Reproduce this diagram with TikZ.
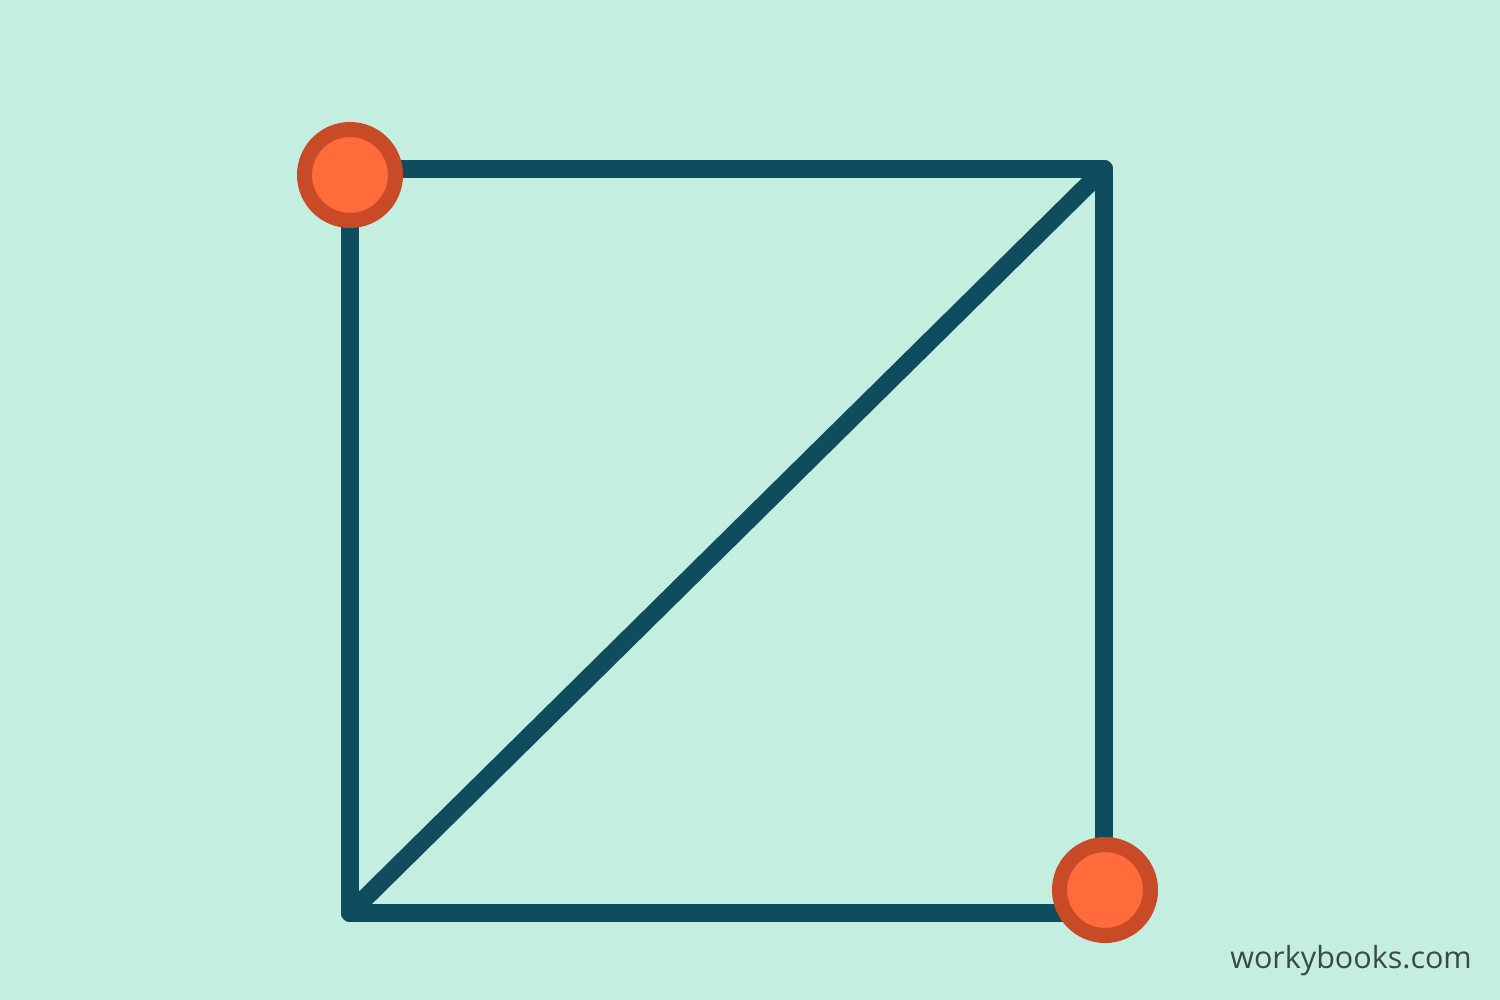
\documentclass[tikz,border=0pt]{standalone}
\usepackage{fontspec}
\setmainfont{Open Sans}
\definecolor{bg}{HTML}{C3EEE0}
\definecolor{edge}{HTML}{0E4C5E}
\definecolor{ring}{HTML}{C94A26}
\definecolor{dotfill}{HTML}{FF6B3A}
\definecolor{mark}{HTML}{3A4A4A}
\begin{document}
\begin{tikzpicture}[x=1pt,y=-1pt,
  edgeline/.style={draw=edge,line width=18pt,line join=round,line cap=round},
  vertexdot/.style={circle,draw=ring,fill=dotfill,line width=15pt,minimum size=91pt,inner sep=0pt}]
\fill[bg] (0,0) rectangle (1500,1000);
\useasboundingbox (0,0) rectangle (1500,1000);
\coordinate (tl) at (350,169);
\coordinate (tr) at (1104,169);
\coordinate (br) at (1104,913);
\coordinate (bl) at (350,913);
\draw[edgeline] (tl) -- (tr) -- (br) -- (bl) -- cycle;
\draw[edgeline] (bl) -- (tr);
\node[vertexdot] (dotA) at (350,175) {};
\node[vertexdot] (dotB) at (1105,890) {};
\node[anchor=base east,text=mark,font=\fontsize{30.5}{30.5}\selectfont,inner sep=0pt] (wm) at (1472,968) {workybooks.com};
\end{tikzpicture}
\end{document}
